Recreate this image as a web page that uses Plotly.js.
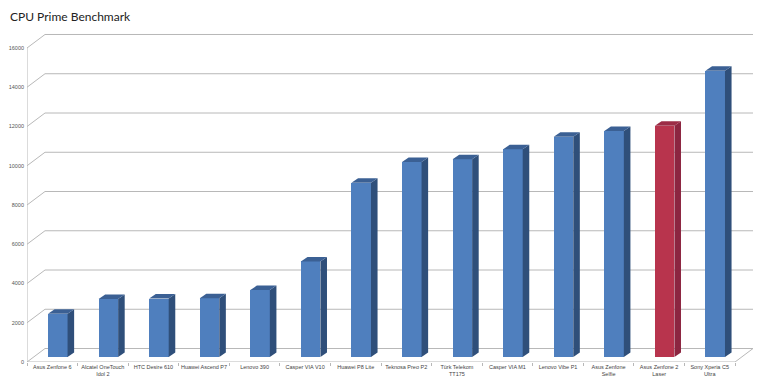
<!DOCTYPE html>
<html>
<head>
<meta charset="utf-8">
<script src="https://cdn.plot.ly/plotly-3.0.1.min.js"></script>
<style>html,body{margin:0;padding:0;background:#fff;}#chart{width:770px;height:380px;}</style>
</head>
<body>
<div id="chart"></div>
<script>
// ---- data ----
const categories = [
  "Asus Zenfone 6", "Alcatel OneTouch<br>Idol 2", "HTC Desire 610", "Huawei Ascend P7",
  "Lenovo 390", "Casper VIA V10", "Huawei P8 Lite", "Teknosa Preo P2",
  "Türk Telekom<br>TT175", "Casper VIA M1", "Lenovo Vibe P1", "Asus Zenfone<br>Selfie",
  "Asus Zenfone 2<br>Laser", "Sony Xperia C5<br>Ultra"
];
const scores = [2200, 2950, 2980, 2990, 3410, 4870, 8880, 9940, 10080, 10590, 11220, 11520, 11780, 14590];
const highlighted = [false, false, false, false, false, false, false, false, false, false, false, false, true, false];
const yTickValues = [0, 2000, 4000, 6000, 8000, 10000, 12000, 14000, 16000];

// ---- 3D emulation styling ----
const wallDx = 0.356, wallDy = 688;     // back wall offset (data units)
const barShift = 0.109, barBase = 255;  // bar depth position
const barW = 0.386;                      // front face width
const sideDx = 0.13, sideDy = 229;      // bar depth
const colors = {
  blue:  {front: "#4F7FBE", side: "#2F4F7A", top: "#3B6094"},
  red:   {front: "#B8344D", side: "#8C2540", top: "#9C2C46"}
};
const gridColor = "#B8B8B8";

const idx = categories.map((_, i) => i);
const traces = [];

// front faces via bar trace
traces.push({
  type: "bar",
  x: idx.map(i => i + barShift),
  y: scores,
  base: scores.map(() => barBase),
  width: barW,
  marker: {color: highlighted.map(h => h ? colors.red.front : colors.blue.front), line: {width: 0}},
  hoverinfo: "skip",
  showlegend: false
});

// side and top faces as polygons
scores.forEach((v, i) => {
  const c = highlighted[i] ? colors.red : colors.blue;
  const xl = i + barShift - barW / 2, xr = i + barShift + barW / 2;
  const b = barBase, t = barBase + v;
  traces.push({
    type: "scatter", mode: "lines", fill: "toself", fillcolor: c.side,
    line: {width: 0, color: c.side},
    x: [xr, xr + sideDx, xr + sideDx, xr, xr],
    y: [b, b + sideDy, t + sideDy, t, b],
    hoverinfo: "skip", showlegend: false
  });
  traces.push({
    type: "scatter", mode: "lines", fill: "toself", fillcolor: c.top,
    line: {width: 0, color: c.top},
    x: [xl, xl + sideDx, xr + sideDx, xr, xl],
    y: [t, t + sideDy, t + sideDy, t, t],
    hoverinfo: "skip", showlegend: false
  });
});

// dummy trace on xaxis2 for boundary tick marks
traces.push({type: "scatter", x: [0], y: [0], xaxis: "x2", mode: "markers",
  marker: {opacity: 0}, hoverinfo: "skip", showlegend: false});

const x0 = -0.5, x1 = categories.length - 0.5;
const shapes = [];
yTickValues.forEach(v => {
  shapes.push({type: "line", layer: "below", x0: x0, y0: v, x1: x0 + wallDx, y1: v + wallDy,
    line: {color: gridColor, width: 1}});
  shapes.push({type: "line", layer: "below", x0: x0 + wallDx, y0: v + wallDy, x1: x1 + wallDx, y1: v + wallDy,
    line: {color: gridColor, width: 1}});
});
// left axis line
shapes.push({type: "line", layer: "below", x0: x0, y0: 0, x1: x0, y1: yTickValues[yTickValues.length - 1],
  line: {color: gridColor, width: 1}});
// floor front edge and right slant
shapes.push({type: "line", layer: "below", x0: x0, y0: 0, x1: x1, y1: 0, line: {color: gridColor, width: 1}});
shapes.push({type: "line", layer: "below", x0: x1, y0: 0, x1: x1 + wallDx, y1: wallDy, line: {color: gridColor, width: 1}});

const xRange = [-0.5, 13.856];
const layout = {
  width: 770, height: 380,
  margin: {l: 27, r: 17, t: 30, b: 18},
  paper_bgcolor: "#fff", plot_bgcolor: "rgba(0,0,0,0)",
  title: {text: "CPU Prime Benchmark", x: 0.013, xanchor: "left", y: 0.957, yanchor: "middle",
    font: {family: "Lato, 'DejaVu Sans', sans-serif", size: 12, color: "#222"}},
  font: {family: "'Liberation Sans', 'DejaVu Sans', sans-serif", color: "#555"},
  showlegend: false,
  xaxis: {
    range: xRange, tickmode: "array", tickvals: idx, ticktext: categories,
    showgrid: false, zeroline: false, showline: false, ticks: "",
    tickfont: {size: 5.5, color: "#444"}, tickangle: 0, automargin: false, fixedrange: true
  },
  xaxis2: {
    overlaying: "x", anchor: "y", side: "bottom", range: xRange,
    tickmode: "array", tickvals: idx.map(i => i - 0.5).concat([x1]),
    showticklabels: false, ticks: "outside", ticklen: 3, tickcolor: gridColor,
    showgrid: false, zeroline: false, showline: false
  },
  yaxis: {
    range: [0, 16917], tickmode: "array", tickvals: yTickValues, ticktext: yTickValues.map(String),
    showgrid: false, zeroline: false, showline: false, ticks: "",
    tickfont: {size: 5.5, color: "#555"}, ticklabelstandoff: 2, automargin: false, fixedrange: true
  },
  shapes: shapes,
  bargap: 0
};

Plotly.newPlot("chart", traces, layout, {staticPlot: true, displayModeBar: false});
</script>
</body>
</html>
